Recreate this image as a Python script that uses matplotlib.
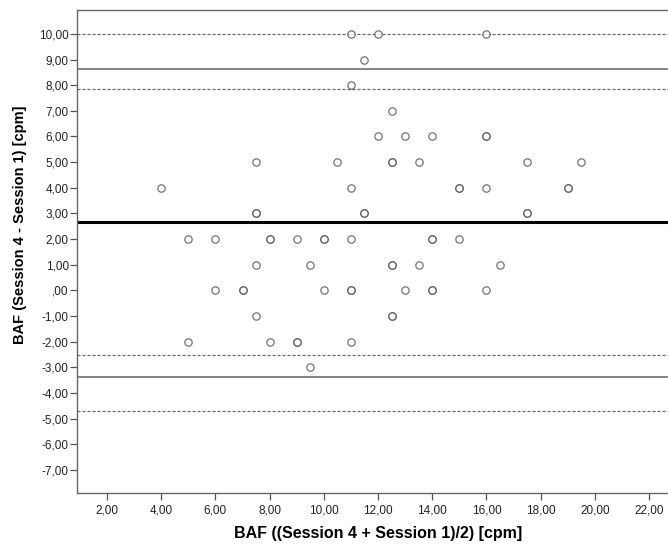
import matplotlib.pyplot as plt
import numpy as np

plt.rcParams['font.family'] = ['Liberation Sans', 'DejaVu Sans']

# mean of two sessions (x) and difference (y); repeated pairs appear twice
mean_vals = [4, 7.5, 7.5, 7.5, 10.5,
             5, 6, 8, 8, 9, 10, 10, 11, 14, 14, 15,
             7.5, 9.5, 12.5, 12.5, 13.5, 16.5,
             11, 12, 16, 11.5, 11, 12.5,
             12, 13, 14, 16, 16,
             12.5, 12.5, 13.5, 17.5, 19.5,
             11, 15, 15, 16, 19, 19,
             11.5, 11.5, 17.5, 17.5,
             6, 7, 7, 10, 11, 11, 13, 14, 14, 16,
             7.5, 12.5, 12.5,
             5, 8, 9, 9, 11,
             9.5]
diff_vals = [4, 5, 3, 3, 5,
             2, 2, 2, 2, 2, 2, 2, 2, 2, 2, 2,
             1, 1, 1, 1, 1, 1,
             10, 10, 10, 9, 8, 7,
             6, 6, 6, 6, 6,
             5, 5, 5, 5, 5,
             4, 4, 4, 4, 4, 4,
             3, 3, 3, 3,
             0, 0, 0, 0, 0, 0, 0, 0, 0, 0,
             -1, -1, -1,
             -2, -2, -2, -2, -2,
             -3]

mean_diff = 2.66
loa_upper = 8.62
loa_lower = -3.38
ci_lines = [10.0, 7.84, -2.53, -4.69]

x_ticks = [2, 4, 6, 8, 10, 12, 14, 16, 18, 20, 22]
x_labels = ['2,00', '4,00', '6,00', '8,00', '10,00', '12,00', '14,00',
            '16,00', '18,00', '20,00', '22,00']
y_ticks = [10, 9, 8, 7, 6, 5, 4, 3, 2, 1, 0, -1, -2, -3, -4, -5, -6, -7]
y_labels = ['10,00', '9,00', '8,00', '7,00', '6,00', '5,00', '4,00', '3,00',
            '2,00', '1,00', ',00', '-1,00', '-2,00', '-3,00', '-4,00',
            '-5,00', '-6,00', '-7,00']

fig = plt.figure(figsize=(6.68, 5.44), dpi=100)
ax = fig.add_axes([0.1153, 0.0938, 0.8847, 0.8878])

for y in ci_lines:
    ax.axhline(y, color='#6a6a6a', lw=0.9, ls=(0, (2.5, 1.5)), zorder=1)
ax.axhline(loa_upper, color='#707070', lw=1.2, zorder=1)
ax.axhline(loa_lower, color='#707070', lw=1.2, zorder=1)
ax.axhline(mean_diff, color='black', lw=2.2, zorder=1)

ax.scatter(mean_vals, diff_vals, s=28, facecolors='white', edgecolors='#444444',
           linewidths=0.9, alpha=0.75, zorder=3)

ax.set_xlim(0.893, 22.7)
ax.set_ylim(-7.9, 10.93)
ax.set_xticks(x_ticks)
ax.set_xticklabels(x_labels)
ax.set_yticks(y_ticks)
ax.set_yticklabels(y_labels)
ax.tick_params(direction='out', length=5, width=0.9, color='#555555',
               labelsize=8.5, labelcolor='#222222')
ax.tick_params(axis='y', pad=1)
ax.tick_params(axis='x', pad=3)

for side in ['left', 'bottom', 'top']:
    ax.spines[side].set_color('#666666')
    ax.spines[side].set_linewidth(1.0)
ax.spines['right'].set_visible(False)

ax.set_xlabel('BAF ((Session 4 + Session 1)/2) [cpm]', fontsize=11.5,
              fontweight='bold')
ax.set_ylabel('BAF (Session 4 - Session 1) [cpm]', fontsize=10.5,
              fontweight='bold')
ax.xaxis.set_label_coords((378 - 77) / 591, -(526 - 493) / 483)
ax.yaxis.set_label_coords(-(77 - 27) / 591, (493 - 225) / 483)

fig.savefig('out.png', dpi=100)
